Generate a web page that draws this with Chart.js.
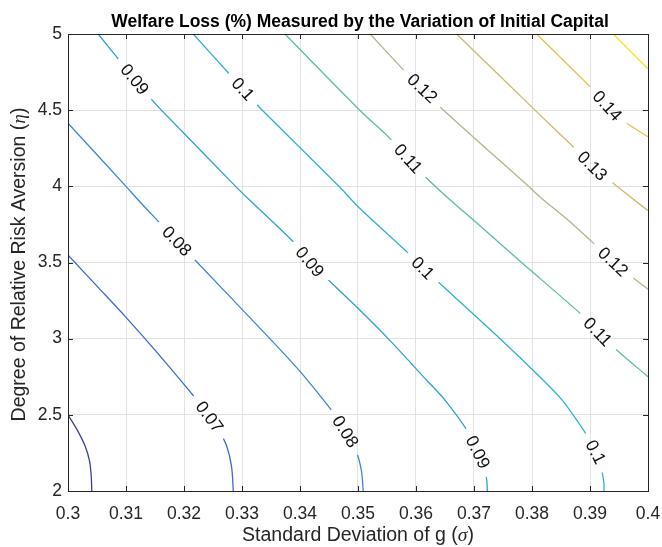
<!DOCTYPE html>
<html>
<head>
<meta charset="utf-8">
<script src="https://cdn.jsdelivr.net/npm/chart.js@4.4.0/dist/chart.umd.min.js"></script>
<style>
  html, body { margin: 0; padding: 0; background: #fff; }
  #wrap { width: 662px; height: 547px; position: relative; }
</style>
</head>
<body>
<div id="wrap"><canvas id="welfareChart"></canvas></div>
<script>
// contour levels and their colours (parula-like)
var levels = [0.06, 0.07, 0.08, 0.09, 0.1, 0.11, 0.12, 0.13, 0.14, 0.15];
var levelColors = ['#3e3f96', '#3b6bd1', '#3c87d6', '#2ea1cc', '#2fb3c9',
                   '#5fb9ad', '#a9ba8c', '#cfb874', '#e6c24c', '#f2e62c'];

// contour lines: sigma (x) and eta (y) for each level
var sigma06 = [0.3000, 0.3016, 0.3029, 0.3037, 0.3040, 0.3041];
var eta06   = [2.500, 2.400, 2.300, 2.200, 2.100, 2.000];

var sigma07 = [0.3000, 0.3050, 0.3100, 0.3150, 0.3200, 0.3230, 0.3244, 0.3260, 0.3274, 0.3282, 0.3285];
var eta07   = [3.549, 3.345, 3.140, 2.925, 2.700, 2.560, 2.488, 2.400, 2.291, 2.160, 2.000];

var sigma08 = [0.3000, 0.3100, 0.3121, 0.3159, 0.3216, 0.3348, 0.3400, 0.3440, 0.3462, 0.3482, 0.3498, 0.3506, 0.3509];
var eta08   = [4.414, 4.000, 3.910, 3.757, 3.528, 3.000, 2.785, 2.600, 2.490, 2.370, 2.250, 2.130, 2.000];

var sigma09 = [0.3052, 0.3115, 0.3141, 0.3161, 0.3289, 0.3313, 0.3388, 0.3417, 0.3449, 0.3503, 0.3552, 0.3618, 0.3650, 0.3690, 0.3707, 0.3718, 0.3722, 0.3723];
var eta09   = [5.000, 4.703, 4.584, 4.500, 4.000, 3.910, 3.637, 3.505, 3.385, 3.188, 3.000, 2.729, 2.597, 2.387, 2.256, 2.150, 2.070, 2.000];

var sigma10 = [0.3216, 0.3277, 0.3302, 0.3323, 0.3335, 0.3467, 0.3503, 0.3587, 0.3612, 0.3636, 0.3745, 0.3819, 0.3852, 0.3880, 0.3900, 0.3912, 0.3920, 0.3924, 0.3924];
var eta10   = [5.000, 4.742, 4.639, 4.549, 4.500, 4.000, 3.856, 3.560, 3.464, 3.380, 3.000, 2.729, 2.597, 2.450, 2.330, 2.240, 2.140, 2.050, 2.000];

var sigma11 = [0.3374, 0.3503, 0.3555, 0.3589, 0.3616, 0.3633, 0.3659, 0.3699, 0.3782, 0.3883, 0.3915, 0.3946, 0.4000];
var eta11   = [5.000, 4.500, 4.315, 4.173, 4.063, 4.000, 3.910, 3.779, 3.500, 3.166, 3.040, 2.926, 2.750];

var sigma12 = [0.3521, 0.3584, 0.3611, 0.3641, 0.3794, 0.3820, 0.3862, 0.3903, 0.3940, 0.3972, 0.4000];
var eta12   = [5.000, 4.742, 4.644, 4.523, 4.000, 3.910, 3.779, 3.637, 3.505, 3.407, 3.325];

var sigma13 = [0.3670, 0.3806, 0.3871, 0.3904, 0.3940, 0.4000];
var eta13   = [5.000, 4.497, 4.260, 4.135, 4.020, 3.840];

var sigma14 = [0.3808, 0.3900, 0.3930, 0.3960, 0.4000];
var eta14   = [5.000, 4.654, 4.529, 4.424, 4.325];

var sigma15 = [0.3940, 0.3970, 0.4000];
var eta15   = [5.000, 4.885, 4.770];

var contourSigma = [sigma06, sigma07, sigma08, sigma09, sigma10, sigma11, sigma12, sigma13, sigma14, sigma15];
var contourEta   = [eta06, eta07, eta08, eta09, eta10, eta11, eta12, eta13, eta14, eta15];

// inline contour labels
var labelLevels = [0.07, 0.08, 0.08, 0.09, 0.09, 0.09, 0.1, 0.1, 0.1, 0.11, 0.11, 0.12, 0.12, 0.13, 0.14];
var labelSigma  = [0.3244, 0.3185, 0.3478, 0.3115, 0.3417, 0.3707, 0.3302, 0.3612, 0.3910, 0.3584, 0.3912, 0.3611, 0.3940, 0.3904, 0.3930];
var labelEta    = [2.488, 3.631, 2.389, 4.703, 3.505, 2.256, 4.639, 3.464, 2.256, 4.173, 3.040, 4.644, 3.505, 4.135, 4.529];

// axis ticks
var xTicks = [0.3, 0.31, 0.32, 0.33, 0.34, 0.35, 0.36, 0.37, 0.38, 0.39, 0.4];
var yTicks = [2, 2.5, 3, 3.5, 4, 4.5, 5];

var FONT = "'Liberation Sans', Arial, Helvetica, sans-serif";
var labelFont = '17.5px ' + FONT;

var datasets = levels.map(function (lv, i) {
  return {
    label: String(lv),
    data: contourSigma[i].map(function (s, j) { return { x: s, y: contourEta[i][j] }; }),
    showLine: true,
    borderColor: levelColors[i],
    borderWidth: 1.3,
    pointRadius: 0,
    tension: 0.3
  };
});

// find label position on its contour and the local direction of the line
function labelBoxes(chart) {
  var xs = chart.scales.x, ys = chart.scales.y, ctx = chart.ctx;
  ctx.save();
  ctx.font = labelFont;
  var out = labelLevels.map(function (lv, i) {
    var k = levels.indexOf(lv);
    var px = xs.getPixelForValue(labelSigma[i]), py = ys.getPixelForValue(labelEta[i]);
    var pts = contourSigma[k].map(function (s, j) {
      return [xs.getPixelForValue(s), ys.getPixelForValue(contourEta[k][j])];
    });
    var best = null;
    for (var j = 0; j < pts.length - 1; j++) {
      var a = pts[j], b = pts[j + 1];
      var dx = b[0] - a[0], dy = b[1] - a[1];
      var len2 = dx * dx + dy * dy || 1;
      var t = Math.max(0, Math.min(1, ((px - a[0]) * dx + (py - a[1]) * dy) / len2));
      var qx = a[0] + t * dx, qy = a[1] + t * dy;
      var d = (qx - px) * (qx - px) + (qy - py) * (qy - py);
      if (!best || d < best.d) best = { d: d, x: qx, y: qy, ang: Math.atan2(dy, dx) };
    }
    var ang = best.ang;
    if (ang > Math.PI / 2) ang -= Math.PI;
    if (ang <= -Math.PI / 2) ang += Math.PI;
    var text = String(lv);
    return { x: best.x, y: best.y, angle: ang, text: text, w: ctx.measureText(text).width + 18, h: 16 };
  });
  ctx.restore();
  return out;
}

var contourLabels = {
  id: 'contourLabels',
  beforeDatasetsDraw: function (chart) {
    var ctx = chart.ctx;
    chart.$boxes = labelBoxes(chart);
    ctx.save();
    ctx.beginPath();
    ctx.rect(0, 0, chart.width, chart.height);
    chart.$boxes.forEach(function (b) {
      var c = Math.cos(b.angle), s = Math.sin(b.angle);
      var hw = b.w / 2, hh = b.h / 2;
      [[-hw, -hh], [hw, -hh], [hw, hh], [-hw, hh]].forEach(function (p, i) {
        var x = b.x + p[0] * c - p[1] * s, y = b.y + p[0] * s + p[1] * c;
        if (i === 0) ctx.moveTo(x, y); else ctx.lineTo(x, y);
      });
      ctx.closePath();
    });
    ctx.clip('evenodd');
  },
  afterDatasetsDraw: function (chart) {
    var ctx = chart.ctx;
    ctx.restore();
    ctx.save();
    ctx.font = labelFont;
    ctx.fillStyle = '#111';
    ctx.textAlign = 'center';
    ctx.textBaseline = 'middle';
    chart.$boxes.forEach(function (b) {
      ctx.save();
      ctx.translate(b.x, b.y);
      ctx.rotate(b.angle);
      ctx.fillText(b.text, 0, 1);
      ctx.restore();
    });
    ctx.restore();
  }
};

// box, inward ticks, title and axis titles
var axesFrame = {
  id: 'axesFrame',
  afterDraw: function (chart) {
    var ctx = chart.ctx, a = chart.chartArea;
    var xs = chart.scales.x, ys = chart.scales.y;
    ctx.save();
    ctx.strokeStyle = '#262626';
    ctx.lineWidth = 1;
    ctx.beginPath();
    xTicks.forEach(function (v) {
      var x = Math.round(xs.getPixelForValue(v)) + 0.5;
      ctx.moveTo(x, a.bottom); ctx.lineTo(x, a.bottom - 5);
      ctx.moveTo(x, a.top); ctx.lineTo(x, a.top + 5);
    });
    yTicks.forEach(function (v) {
      var y = Math.round(ys.getPixelForValue(v)) + 0.5;
      ctx.moveTo(a.left, y); ctx.lineTo(a.left + 5, y);
      ctx.moveTo(a.right, y); ctx.lineTo(a.right - 5, y);
    });
    ctx.stroke();
    ctx.strokeRect(Math.round(a.left) + 0.5, Math.round(a.top) + 0.5,
                   Math.round(a.right - a.left), Math.round(a.bottom - a.top));

    ctx.fillStyle = '#000';
    ctx.textAlign = 'center';
    ctx.textBaseline = 'alphabetic';
    ctx.font = 'bold 17.5px ' + FONT;
    ctx.fillText('Welfare Loss (%) Measured by the Variation of Initial Capital', (a.left + a.right) / 2 + 2, 27);

    ctx.fillStyle = '#262626';
    drawMixed(ctx, ['Standard Deviation of g (', 'σ', ')'], (a.left + a.right) / 2, 541, 0);
    drawMixed(ctx, ['Degree of Relative Risk Aversion (', 'η', ')'], 25, (a.top + a.bottom) / 2 + 2, -Math.PI / 2);
    ctx.restore();
  }
};

function drawMixed(ctx, parts, cx, cy, rot) {
  var fonts = ['19.5px ' + FONT, "italic 19.5px 'Liberation Serif', 'DejaVu Serif', serif", '19.5px ' + FONT];
  var widths = parts.map(function (p, i) { ctx.font = fonts[i]; return ctx.measureText(p).width; });
  var total = widths.reduce(function (s, w) { return s + w; }, 0);
  ctx.save();
  ctx.translate(cx, cy);
  ctx.rotate(rot);
  ctx.textAlign = 'left';
  var x = -total / 2;
  parts.forEach(function (p, i) {
    ctx.font = fonts[i];
    ctx.fillText(p, x, 0);
    x += widths[i];
  });
  ctx.restore();
}

var chart = new Chart(document.getElementById('welfareChart'), {
  type: 'scatter',
  data: { datasets: datasets },
  options: {
    responsive: true,
    maintainAspectRatio: false,
    animation: false,
    layout: { padding: { top: 34, right: 14, left: 0, bottom: 0 } },
    plugins: { legend: { display: false }, tooltip: { enabled: false } },
    scales: {
      x: {
        type: 'linear', min: 0.3, max: 0.4,
        afterBuildTicks: function (s) { s.ticks = xTicks.map(function (v) { return { value: v }; }); },
        afterFit: function (s) { s.height = 56; s.paddingLeft = 0; s.paddingRight = 0; },
        ticks: {
          color: '#262626', padding: 13, maxRotation: 0,
          font: { family: FONT, size: 17.5 },
          callback: function (v) { return String(Number(v.toFixed(2))); }
        },
        grid: { color: '#e2e2e2', drawTicks: false },
        border: { display: false }
      },
      y: {
        type: 'linear', min: 2, max: 5,
        afterBuildTicks: function (s) { s.ticks = yTicks.map(function (v) { return { value: v }; }); },
        afterFit: function (s) { s.width = 68; s.paddingTop = 0; s.paddingBottom = 0; },
        ticks: {
          color: '#262626', padding: 6,
          font: { family: FONT, size: 17.5 },
          callback: function (v) { return String(v); }
        },
        grid: { color: '#e2e2e2', drawTicks: false },
        border: { display: false }
      }
    }
  },
  plugins: [contourLabels, axesFrame]
});
</script>
</body>
</html>
